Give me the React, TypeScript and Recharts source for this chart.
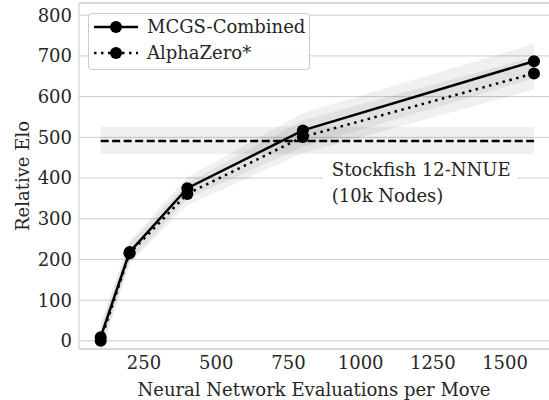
import React from 'react';
import {
  ComposedChart,
  Line,
  Area,
  XAxis,
  YAxis,
  CartesianGrid,
  ReferenceLine,
  ReferenceArea
} from 'recharts';

// evaluations per move
const evals = [100, 200, 400, 800, 1600];

// relative elo per series
const mcgsCombined = [9, 218, 375, 517, 687];
const alphaZero = [0, 215, 361, 501, 657];

// confidence bands
const mcgsLow = [-25, 193, 350, 476, 645];
const mcgsHigh = [45, 245, 402, 560, 730];
const alphaZeroLow = [-30, 190, 334, 461, 617];
const alphaZeroHigh = [32, 240, 388, 542, 698];

// stockfish baseline
const stockfishElo = 491;
const stockfishLow = 459;
const stockfishHigh = 526;

const xTicks = [250, 500, 750, 1000, 1250, 1500];
const yTicks = [0, 100, 200, 300, 400, 500, 600, 700, 800];

const FONT = '"DejaVu Serif", serif';
const FS = 18;
const TEXT = '#262626';
const GRID = '#cccccc';

const data = evals.map((x, i) => ({
  x,
  mcgs: mcgsCombined[i],
  az: alphaZero[i],
  mcgsBand: [mcgsLow[i], mcgsHigh[i]],
  azBand: [alphaZeroLow[i], alphaZeroHigh[i]],
  sf: stockfishElo,
  sfBand: [stockfishLow, stockfishHigh]
}));

const AnnotationLabel = (props: any) => {
  const vb = props.viewBox || {};
  const x = vb.x + 9;
  const y = vb.y;
  return (
    <text fontFamily={FONT} fontSize={FS} fill={TEXT}>
      <tspan x={x} y={y + 21.5}>Stockfish 12-NNUE</tspan>
      <tspan x={x} y={y + 47.5}>(10k Nodes)</tspan>
    </text>
  );
};

const YLabel = (props: any) => {
  const vb = props.viewBox || {};
  const cx = 22.5;
  const cy = vb.y + vb.height / 2;
  return (
    <text
      x={cx}
      y={cy}
      transform={`rotate(-90 ${cx} ${cy})`}
      textAnchor="middle"
      dominantBaseline="central"
      fontFamily={FONT}
      fontSize={FS}
      fill={TEXT}
    >
      Relative Elo
    </text>
  );
};

const LegendSample = ({ dashed }: { dashed: boolean }) => (
  <svg width={46} height={14} style={{ display: 'block' }}>
    <line
      x1={1}
      y1={7}
      x2={45}
      y2={7}
      stroke="#000"
      strokeWidth={2.5}
      strokeDasharray={dashed ? '2.5 4.5' : undefined}
    />
    <circle cx={23} cy={7} r={6} fill="#000" />
  </svg>
);

export default function App() {
  return (
    <div style={{ position: 'absolute', left: 0, top: 0, width: 549, height: 400, background: '#fff' }}>
      <ComposedChart
        width={549}
        height={400}
        data={data}
        margin={{ top: 3, right: 0, bottom: 0, left: 0 }}
      >
        <CartesianGrid horizontal vertical={false} stroke={GRID} strokeWidth={1} />
        <XAxis
          dataKey="x"
          type="number"
          domain={[25, 1652]}
          allowDataOverflow
          ticks={xTicks}
          height={51}
          tickLine={false}
          tickSize={0}
          tickMargin={7}
          axisLine={{ stroke: GRID }}
          tick={{ fill: TEXT, fontSize: FS, fontFamily: FONT }}
          label={{
            value: 'Neural Network Evaluations per Move',
            position: 'insideBottom',
            offset: 4,
            fill: TEXT,
            fontSize: FS,
            fontFamily: FONT
          }}
        />
        <YAxis
          type="number"
          domain={[-20, 830]}
          allowDataOverflow
          ticks={yTicks}
          width={79}
          tickLine={false}
          tickSize={0}
          tickMargin={7}
          axisLine={{ stroke: GRID }}
          tick={{ fill: TEXT, fontSize: FS, fontFamily: FONT }}
          label={<YLabel />}
        />
        <ReferenceLine y={830} stroke={GRID} ifOverflow="visible" />
        <ReferenceArea
          x1={869}
          x2={1544}
          y1={317}
          y2={457}
          fill="#ffffff"
          fillOpacity={1}
          stroke="none"
          label={<AnnotationLabel />}
        />
        <Area
          dataKey="sfBand"
          stroke="none"
          fill="#000"
          fillOpacity={0.06}
          isAnimationActive={false}
          activeDot={false}
        />
        <Area
          dataKey="mcgsBand"
          stroke="none"
          fill="#000"
          fillOpacity={0.06}
          isAnimationActive={false}
          activeDot={false}
        />
        <Area
          dataKey="azBand"
          stroke="none"
          fill="#000"
          fillOpacity={0.06}
          isAnimationActive={false}
          activeDot={false}
        />
        <Line
          dataKey="sf"
          stroke="#000"
          strokeWidth={2.5}
          strokeDasharray="8 3.5"
          dot={false}
          isAnimationActive={false}
        />
        <Line
          dataKey="az"
          stroke="#000"
          strokeWidth={2.5}
          strokeDasharray="2.5 4.5"
          dot={{ r: 6, fill: '#000', stroke: 'none' }}
          isAnimationActive={false}
        />
        <Line
          dataKey="mcgs"
          stroke="#000"
          strokeWidth={2.5}
          dot={{ r: 6, fill: '#000', stroke: 'none' }}
          isAnimationActive={false}
        />
      </ComposedChart>
      <div
        style={{
          position: 'absolute',
          left: 88,
          top: 13,
          width: 220,
          height: 55,
          border: `1px solid ${GRID}`,
          borderRadius: 4,
          background: 'rgba(255,255,255,0.85)',
          fontFamily: FONT,
          fontSize: FS,
          color: TEXT,
          whiteSpace: 'nowrap'
        }}
      >
        <div style={{ position: 'absolute', left: 4, top: 6, display: 'flex', alignItems: 'center' }}>
          <LegendSample dashed={false} />
          <span style={{ marginLeft: 8, lineHeight: '14px' }}>MCGS-Combined</span>
        </div>
        <div style={{ position: 'absolute', left: 4, top: 31.5, display: 'flex', alignItems: 'center' }}>
          <LegendSample dashed />
          <span style={{ marginLeft: 8, lineHeight: '14px' }}>AlphaZero*</span>
        </div>
      </div>
    </div>
  );
}
